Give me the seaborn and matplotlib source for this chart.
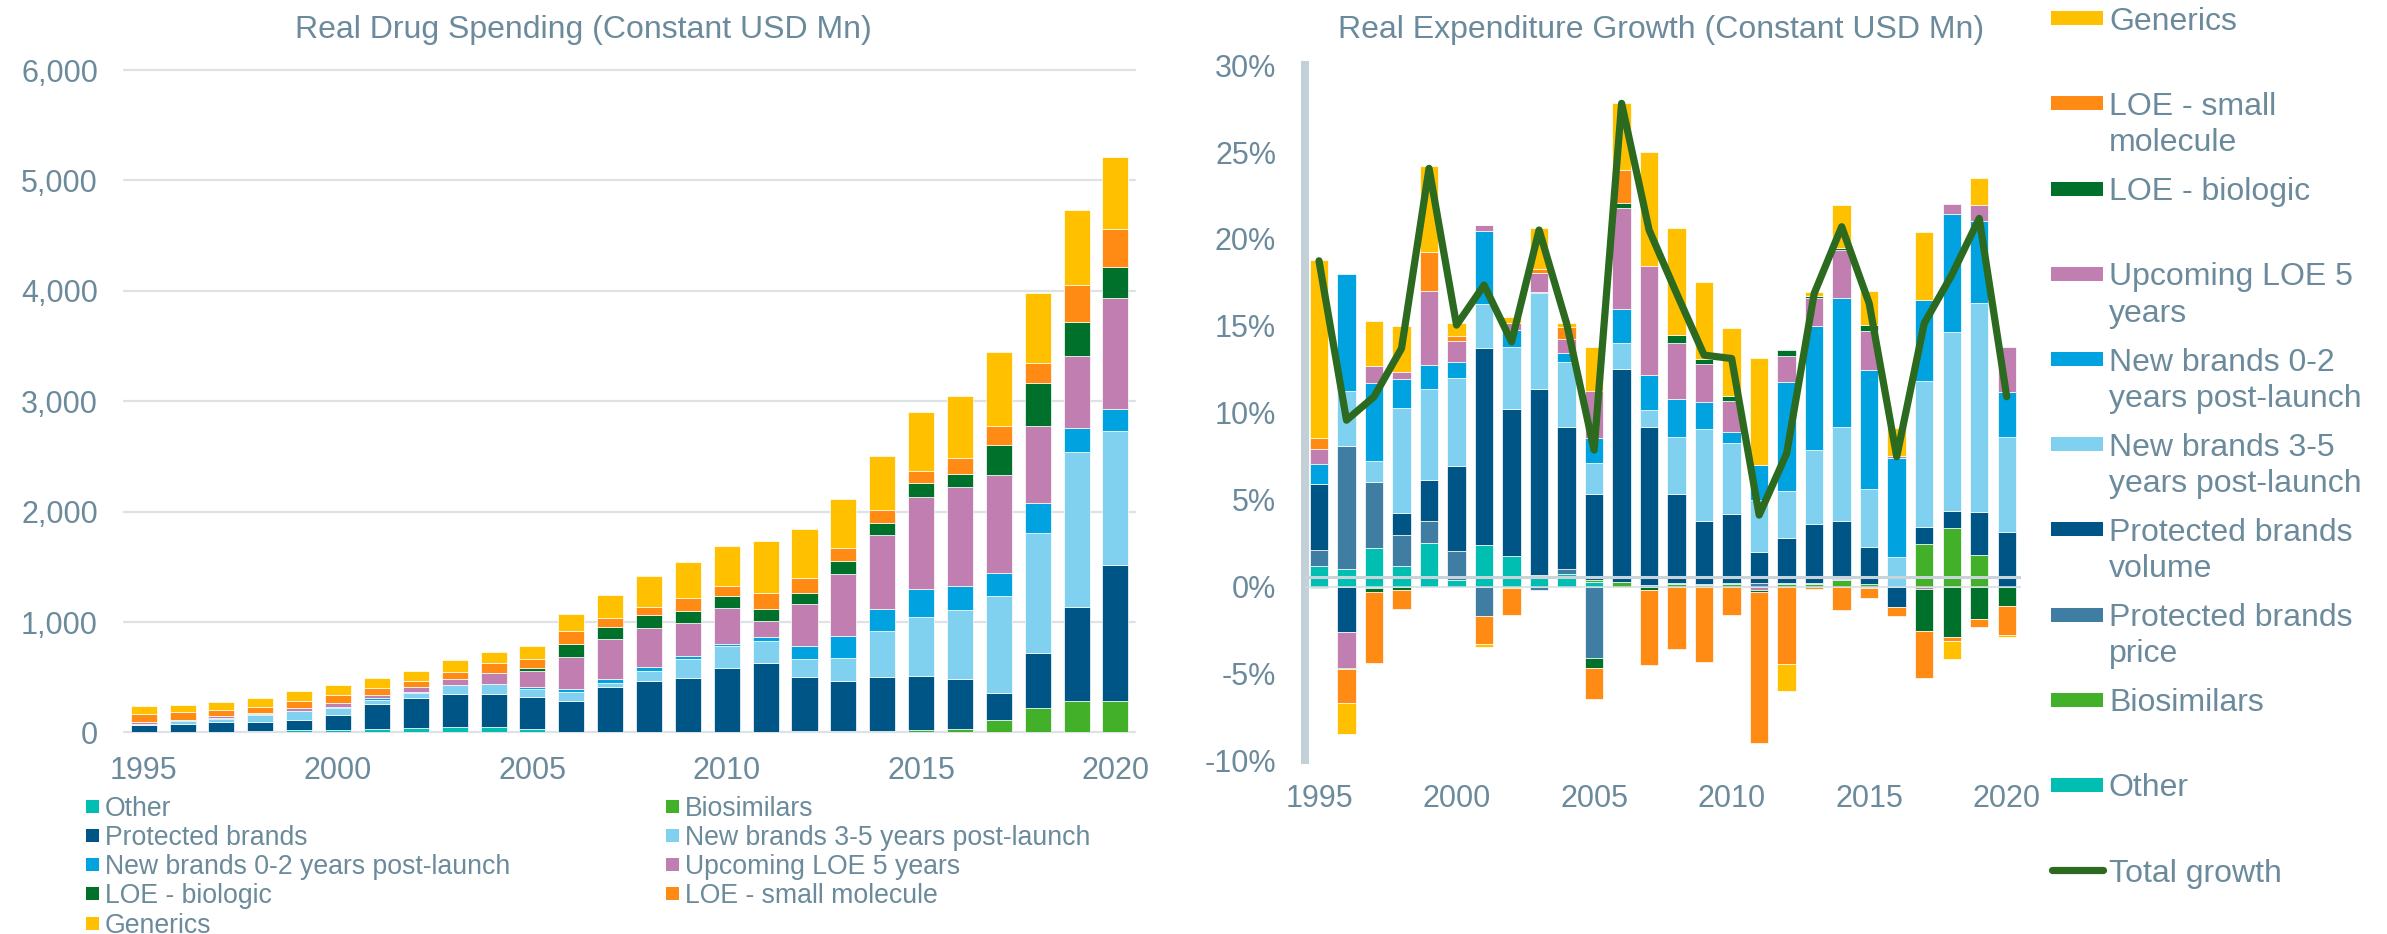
import numpy as np
import matplotlib
matplotlib.use("Agg")
import matplotlib.pyplot as plt
import seaborn as sns
from matplotlib.patches import Rectangle
from matplotlib.lines import Line2D

# ---------------- data ----------------
years = list(range(1995, 2021))

# Left chart: Real Drug Spending (Constant USD Mn)
other_sp = [8, 6, 8, 10, 20, 20, 30, 38, 45, 50, 30, 5, 3, 3, 3, 3, 3, 3, 3, 3, 3, 3, 3, 3, 3, 3]
biosim_sp = [0, 0, 0, 0, 0, 0, 0, 0, 0, 0, 0, 0, 0, 0, 0, 2, 4, 6, 8, 12, 20, 25, 106, 215, 282, 282]
protected_sp = [62, 71, 82, 86, 95, 138, 227, 274, 303, 298, 291, 279, 405, 459, 487, 578, 622, 490, 458,
                487, 488, 453, 251, 504, 851, 1231]
nb35_sp = [6, 22, 28, 64, 75, 63, 40, 45, 78, 87, 75, 82, 43, 94, 172, 200, 202, 166, 205, 416, 537, 628,
           875, 1087, 1404, 1217]
nb02_sp = [4, 13, 16, 6, 4, 9, 12, 12, 4, 3, 18, 24, 30, 36, 33, 15, 36, 121, 196, 197, 251, 217, 206,
           272, 220, 199]
upcoming_sp = [12, 4, 15, 7, 24, 33, 30, 39, 54, 103, 142, 290, 362, 357, 299, 326, 145, 374, 568, 670,
               836, 900, 887, 694, 649, 1002]
loebio_sp = [0, 0, 0, 0, 0, 0, 0, 0, 0, 0, 30, 124, 115, 118, 109, 108, 103, 106, 111, 115, 121, 117, 272,
             393, 308, 284]
loesm_sp = [75, 72, 54, 60, 70, 73, 63, 58, 66, 91, 82, 114, 81, 69, 117, 97, 151, 135, 124, 117, 115,
            145, 178, 181, 338, 339]
generics_sp = [72, 60, 75, 76, 90, 90, 91, 87, 103, 96, 115, 151, 205, 281, 320, 359, 471, 441, 438, 486,
               528, 559, 667, 628, 674, 658]

# Right chart: Real Expenditure Growth (%)
other_g = [1.2, 1.0, 2.2, 1.2, 2.5, 0.4, 2.4, 1.75, 0.66, 0.71, 0.25, 0, 0, 0, 0, 0, 0, 0, 0, 0, 0, 0, 0,
           0, 0, 0]
biosim_g = [0, 0, 0, 0, 0, 0, 0, 0, 0, 0, 0.15, 0.25, 0, 0.15, 0.1, 0.15, 0, 0.15, 0.15, 0.38, 0.15, 0,
            2.42, 3.38, 1.81, 0]
price_g = [0.9, 7.06, 3.84, 1.77, 1.28, 1.63, -1.69, -0.1, -0.2, 0.28, -4.12, 0, 0.1, 0.05, 0.05, 0.05,
           0.2, 0.05, 0.05, 0.05, -0.1, 0, 0, 0, 0, 0]
volume_g = [3.8, -2.63, -0.1, 1.28, 2.36, 4.91, 11.32, 8.46, 10.7, 8.16, 4.92, 12.26, 9.1, 5.1, 3.63,
            3.97, 1.8, 2.6, 3.4, 3.35, 2.1, -1.17, 1.0, 0.96, 2.45, 3.15]
nb35_g = [0, 3.2, 1.19, 6.01, 5.24, 5.04, 2.55, 3.57, 5.5, 3.74, 1.76, 1.48, 0.96, 3.3, 5.28, 4.06, 2.97,
          2.7, 4.28, 5.39, 3.34, 1.7, 8.4, 10.32, 12.07, 5.47]
nb02_g = [1.17, 6.7, 4.46, 1.67, 1.34, 0.94, 4.16, 0.97, 0.06, 0.52, 1.44, 1.97, 2.01, 2.16, 1.53, 0.67,
          2.02, 6.29, 7.08, 7.44, 6.88, 5.71, 4.66, 6.77, 4.71, 2.59]
upcoming_g = [0.86, -2.08, 1.02, 0.44, 4.26, 1.19, 0.38, 0.39, 1.13, 0.83, 2.72, 5.83, 6.26, 3.26, 2.21,
              1.77, -0.23, 1.48, 1.66, 2.78, 2.21, 0.12, -0.12, 0.57, 0.93, 2.58]
loebio_g = [-0.1, -0.05, -0.2, -0.2, 0, -0.05, 0, 0, 0, 0, -0.56, 0.25, -0.2, 0.43, 0.29, 0.29, -0.08,
            0.32, 0.1, 0.06, 0.34, 0, -2.45, -2.93, -1.86, -1.11]
loesm_g = [0.62, -1.96, -4.13, -1.1, 2.24, 0.31, -1.61, -1.53, 0.23, 0.71, -1.78, 1.92, -4.32, -3.6, -4.37,
           -1.63, -8.72, -4.46, -0.12, -1.34, -0.59, -0.5, -2.72, -0.23, -0.46, -1.67]
generics_g = [10.24, -1.75, 2.57, 2.64, 4.95, 0.75, -0.16, 0.38, 2.36, 0.23, 2.55, 3.84, 6.55, 6.15, 4.44,
              3.89, 6.13, -1.54, 0.25, 2.5, 2.01, 1.6, 3.93, -1.04, 1.51, -0.15]
total_g = [18.74, 9.57, 10.92, 13.70, 24.06, 15.04, 17.34, 14.08, 20.51, 15.14, 7.85, 27.80, 20.51, 16.86,
           13.31, 13.12, 4.11, 7.66, 16.86, 20.70, 16.29, 7.47, 15.14, 17.92, 21.18, 10.92]

left_yticks = [0, 1000, 2000, 3000, 4000, 5000, 6000]
right_yticks = [-10, -5, 0, 5, 10, 15, 20, 25, 30]
year_ticks = [1995, 2000, 2005, 2010, 2015, 2020]

# ---------------- style ----------------
C_OTHER = "#00BFB2"
C_BIO = "#43B02A"
C_PRICE = "#3F7EA2"
C_VOL = "#005587"
C_NB35 = "#80D1EF"
C_NB02 = "#00A2E0"
C_UP = "#C17EB0"
C_LOEB = "#00712A"
C_LOES = "#FF8B14"
C_GEN = "#FFC000"
C_TOT = "#2C6B1F"
TXT = "#6B8A9B"
GRID = "#DCE2E6"

sns.set_theme(style="white")
plt.rcParams["font.family"] = ["Liberation Sans", "DejaVu Sans"]

W, H = 2387, 934
fig = plt.figure(figsize=(W / 100, H / 100), dpi=100)
fig.patch.set_facecolor("white")


def fx(px):
    return px / W


def fy(py):
    return 1 - py / H


BAR_W = 0.67

# ---------------- left chart ----------------
axL = fig.add_axes([fx(124.3), fy(732.4), fx(1134.9) - fx(124.3), fy(70) - fy(732.4)])
left_series = [
    (other_sp, C_OTHER), (biosim_sp, C_BIO), (protected_sp, C_VOL), (nb35_sp, C_NB35),
    (nb02_sp, C_NB02), (upcoming_sp, C_UP), (loebio_sp, C_LOEB), (loesm_sp, C_LOES),
    (generics_sp, C_GEN),
]
for v in left_yticks:
    axL.axhline(v, color=GRID, lw=1.6, zorder=0, clip_on=False)
bottom = np.zeros(len(years))
for vals, col in left_series:
    vals = np.asarray(vals, dtype=float)
    sns.barplot(x=years, y=vals, bottom=bottom, color=col, saturation=1, width=BAR_W,
                native_scale=True, orient="x", errorbar=None, ax=axL,
                edgecolor="white", linewidth=0.5, zorder=2)
    bottom += vals
axL.set_xlim(1994.5, 2020.5)
axL.set_ylim(0, 6000)
axL.set_yticks(left_yticks)
axL.set_yticklabels([f"{v:,}" for v in left_yticks])
axL.set_xticks(year_ticks)
axL.set_xticklabels([str(y) for y in year_ticks])
axL.set_xlabel("")
axL.set_ylabel("")
for s in axL.spines.values():
    s.set_visible(False)
axL.tick_params(axis="y", length=0, pad=19, labelsize=22, labelcolor=TXT)
axL.tick_params(axis="x", length=0, pad=17, labelsize=22, labelcolor=TXT)
axL.grid(False)

fig.text(fx(583), fy(37.6), "Real Drug Spending (Constant USD Mn)", ha="center", va="baseline",
         fontsize=23, color=TXT)

# left legend (two columns)
left_leg = [
    [("Other", C_OTHER), ("Biosimilars", C_BIO)],
    [("Protected brands", C_VOL), ("New brands 3-5 years post-launch", C_NB35)],
    [("New brands 0-2 years post-launch", C_NB02), ("Upcoming LOE 5 years", C_UP)],
    [("LOE - biologic", C_LOEB), ("LOE - small molecule", C_LOES)],
    [("Generics", C_GEN)],
]
col_x = [86, 666]
for r, row in enumerate(left_leg):
    yc = 806 + 29.3 * r
    for c, (lab, col) in enumerate(row):
        fig.add_artist(Rectangle((fx(col_x[c]), fy(yc + 6.5)), 13 / W, 13 / H,
                                 transform=fig.transFigure, facecolor=col, edgecolor="none"))
        fig.text(fx(col_x[c] + 19), fy(yc + 9.5), lab, ha="left", va="baseline",
                 fontsize=19.2, color=TXT)

# ---------------- right chart ----------------
axR = fig.add_axes([fx(1305.25), fy(760.3), fx(2020.5) - fx(1305.25), fy(65.1) - fy(760.3)])
right_series = [
    (other_g, C_OTHER), (biosim_g, C_BIO), (price_g, C_PRICE), (volume_g, C_VOL),
    (nb35_g, C_NB35), (nb02_g, C_NB02), (upcoming_g, C_UP), (loebio_g, C_LOEB),
    (loesm_g, C_LOES), (generics_g, C_GEN),
]
pos = np.zeros(len(years))
neg = np.zeros(len(years))
for vals, col in right_series:
    v = np.asarray(vals, dtype=float)
    b = np.where(v >= 0, pos, neg)
    sns.barplot(x=years, y=v, bottom=b, color=col, saturation=1, width=BAR_W,
                native_scale=True, orient="x", errorbar=None, ax=axR,
                edgecolor="white", linewidth=0.5, zorder=2)
    pos += np.clip(v, 0, None)
    neg += np.clip(v, None, 0)

axR.axhline(0.56, color="#C8D3DA", lw=2.2, zorder=3)
axR.axhline(0, color="#D6DDE2", lw=1.1, zorder=3)
sns.lineplot(x=years, y=total_g, ax=axR, color=C_TOT, linewidth=5.2, sort=False,
             solid_joinstyle="round", solid_capstyle="round", zorder=6)

axR.set_xlim(1994.5, 2020.5)
axR.set_ylim(-10, 30)
axR.set_yticks(right_yticks)
axR.set_yticklabels([f"{v}%" for v in right_yticks])
axR.set_xticks(year_ticks)
axR.set_xticklabels([str(y) for y in year_ticks])
axR.set_xlabel("")
axR.set_ylabel("")
for k, s in axR.spines.items():
    s.set_visible(k == "left")
axR.spines["left"].set_color("#C4D0D8")
axR.spines["left"].set_linewidth(5.8)
axR.tick_params(axis="y", length=0, pad=21, labelsize=22, labelcolor=TXT)
axR.tick_params(axis="x", length=0, pad=17, labelsize=22, labelcolor=TXT)
axR.grid(False)

fig.text(fx(1660.7), fy(38), "Real Expenditure Growth (Constant USD Mn)", ha="center", va="baseline",
         fontsize=23, color=TXT)

# right legend
right_leg = [
    (["Generics"], C_GEN), (["LOE - small", "molecule"], C_LOES), (["LOE - biologic"], C_LOEB),
    (["Upcoming LOE 5", "years"], C_UP), (["New brands 0-2", "years post-launch"], C_NB02),
    (["New brands 3-5", "years post-launch"], C_NB35), (["Protected brands", "volume"], C_VOL),
    (["Protected brands", "price"], C_PRICE), (["Biosimilars"], C_BIO), (["Other"], C_OTHER),
]
for i, (lines, col) in enumerate(right_leg):
    yc = 18.3 + 85.18 * i
    fig.add_artist(Rectangle((fx(2051), fy(yc + 7)), 52 / W, 14 / H,
                             transform=fig.transFigure, facecolor=col, edgecolor="none"))
    for j, ln in enumerate(lines):
        fig.text(fx(2109), fy(yc + 11.5 + 36.3 * j), ln, ha="left", va="baseline",
                 fontsize=23, color=TXT)
yc = 18.3 + 85.18 * 10
fig.add_artist(Line2D([fx(2052), fx(2103)], [fy(yc), fy(yc)], transform=fig.transFigure,
                      color=C_TOT, lw=5.2, solid_capstyle="round"))
fig.text(fx(2109), fy(yc + 11.5), "Total growth", ha="left", va="baseline", fontsize=23, color=TXT)

fig.savefig("out.png", dpi=100, facecolor="white")
